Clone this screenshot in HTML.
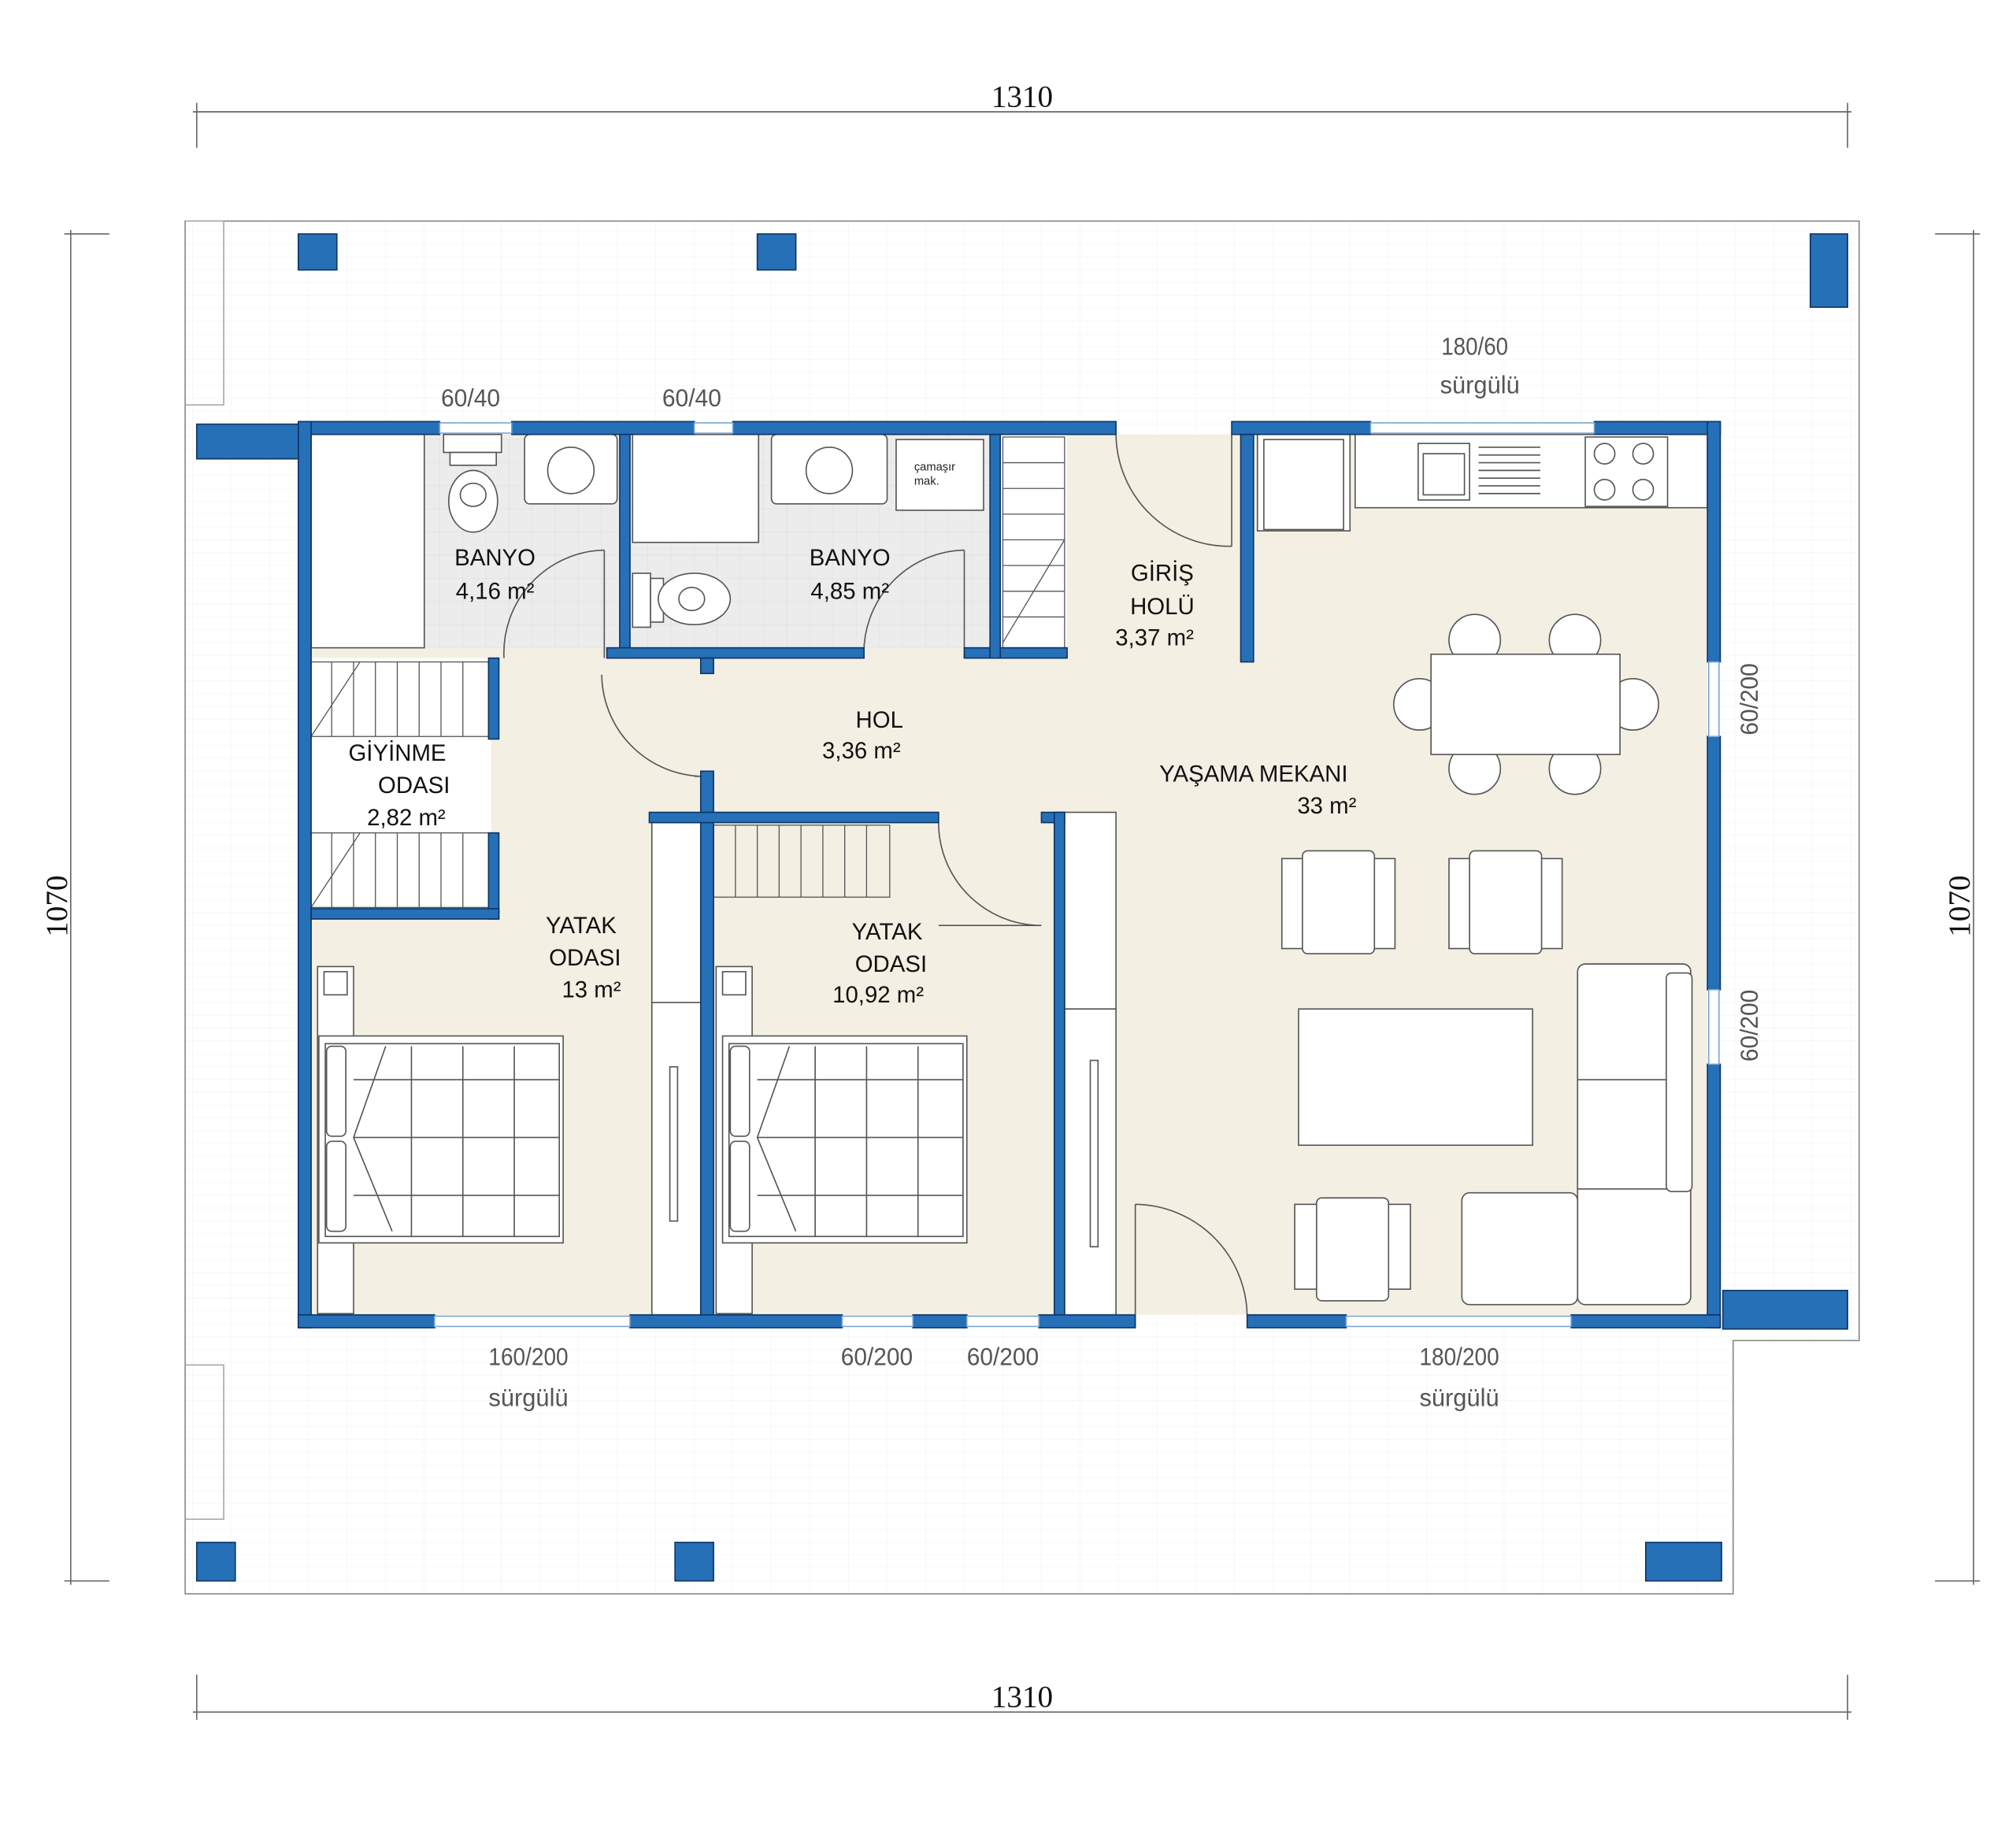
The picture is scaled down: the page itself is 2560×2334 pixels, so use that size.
<!DOCTYPE html>
<html><head><meta charset="utf-8"><style>
html,body{margin:0;padding:0;background:#fff;}
svg{display:block;}
</style></head><body>
<svg width="2560" height="2334" viewBox="0 0 1568 1430" preserveAspectRatio="none" xmlns="http://www.w3.org/2000/svg" font-family="Liberation Sans, sans-serif">
<defs>
<pattern id="tile" width="30" height="10" patternUnits="userSpaceOnUse"><path d="M0 10H30M30 0V10" stroke="#eef0f3" stroke-width="0.6" fill="none"/></pattern>
<pattern id="btile" width="18" height="18" patternUnits="userSpaceOnUse"><path d="M0 18H18M18 0V18" stroke="#dcdcdc" stroke-width="0.6" fill="none"/></pattern>
</defs>
<rect width="1568" height="1430" fill="#fff"/>
<g stroke="#666" stroke-width="1" fill="none">
<line x1="150" y1="87" x2="1440" y2="87"/><line x1="153" y1="80" x2="153" y2="115"/><line x1="1437" y1="80" x2="1437" y2="115"/>
<line x1="150" y1="1332" x2="1440" y2="1332"/><line x1="153" y1="1303" x2="153" y2="1338"/><line x1="1437" y1="1303" x2="1437" y2="1338"/>
<line x1="55" y1="179" x2="55" y2="1233"/><line x1="50" y1="182" x2="85" y2="182"/><line x1="50" y1="1230" x2="85" y2="1230"/>
<line x1="1535" y1="179" x2="1535" y2="1233"/><line x1="1505" y1="182" x2="1540" y2="182"/><line x1="1505" y1="1230" x2="1540" y2="1230"/>
</g>
<g style="font-family:'Liberation Serif',serif" font-size="24" fill="#111" text-anchor="middle">
<text x="795" y="83">1310</text><text x="795" y="1328">1310</text>
<text transform="translate(52,705) rotate(-90)">1070</text>
<text transform="translate(1532,705) rotate(-90)">1070</text>
</g>
<path d="M144 172H1446V1043H1348V1240H144Z" fill="url(#tile)" stroke="#888" stroke-width="1"/>
<path d="M144 172H174V315H144" fill="none" stroke="#aaa" stroke-width="1"/>
<path d="M144 1062H174V1182H144" fill="none" stroke="#aaa" stroke-width="1"/>
<rect x="242" y="338" width="1086" height="685" fill="#f4efe3"/>
<rect x="242" y="338" width="240" height="166" fill="#ececec"/>
<rect x="330" y="338" width="152" height="166" fill="url(#btile)"/>
<rect x="490" y="338" width="280" height="166" fill="#ececec"/>
<rect x="490" y="338" width="280" height="166" fill="url(#btile)"/>
<rect x="242" y="338" width="88" height="166" fill="#fff" stroke="#555" stroke-width="1"/>
<rect x="242" y="512" width="140" height="195" fill="#fff"/>
<rect x="778" y="338" width="52" height="166" fill="#fff"/>
<g stroke="#555" stroke-width="0.8" fill="none">
<rect x="242" y="515" width="138" height="58"/><rect x="242" y="648" width="138" height="58"/>
<path d="M258 515V573M275 515V573M292 515V573M309 515V573M326 515V573M343 515V573M360 515V573"/>
<path d="M258 648V706M275 648V706M292 648V706M309 648V706M326 648V706M343 648V706M360 648V706"/>
<path d="M242 573L280 515M242 706L280 648"/>
<rect x="555" y="642" width="137" height="56"/>
<path d="M572 642V698M589 642V698M606 642V698M623 642V698M640 642V698M657 642V698M674 642V698"/>
<rect x="780" y="340" width="48" height="164"/>
<path d="M780 360H828M780 380H828M780 400H828M780 420H828M780 440H828M780 460H828M780 480H828M780 500L828 420"/>
</g>
<g stroke="#555" stroke-width="1" fill="#fff">
<rect x="345" y="338" width="45" height="14"/><rect x="350" y="352" width="36" height="10"/>
<ellipse cx="368" cy="390" rx="19" ry="24"/><ellipse cx="368" cy="385" rx="10" ry="9"/>
<rect x="408" y="338" width="72" height="54" rx="4"/><circle cx="444" cy="366" r="18"/>
<rect x="492" y="338" width="98" height="84"/>
<rect x="600" y="338" width="90" height="54" rx="4"/><circle cx="645" cy="366" r="18"/>
<rect x="697" y="342" width="68" height="55"/>
<rect x="492" y="446" width="14" height="42"/><rect x="506" y="450" width="10" height="34"/>
<ellipse cx="540" cy="466" rx="28" ry="20"/><ellipse cx="538" cy="466" rx="10" ry="9"/>
</g>
<text x="711" y="366" font-size="9" fill="#222">çamaşır</text><text x="711" y="377" font-size="9" fill="#222">mak.</text>
<g stroke="#555" stroke-width="1" fill="#fff">
<rect x="978" y="338" width="72" height="75"/><rect x="983" y="342" width="62" height="70"/>
<rect x="1054" y="338" width="274" height="57"/>
<rect x="1103" y="345" width="40" height="44"/><rect x="1107" y="353" width="32" height="32"/>
<path d="M1150 348H1198M1150 354H1198M1150 360H1198M1150 366H1198M1150 372H1198M1150 378H1198M1150 384H1198" fill="none"/>
<rect x="1233" y="340" width="64" height="54"/>
<circle cx="1248" cy="353" r="8"/><circle cx="1278" cy="353" r="8"/><circle cx="1248" cy="381" r="8"/><circle cx="1278" cy="381" r="8"/>
</g>
<g stroke="#555" stroke-width="1" fill="#fff">
<circle cx="1147" cy="498" r="20"/><circle cx="1225" cy="498" r="20"/>
<circle cx="1147" cy="598" r="20"/><circle cx="1225" cy="598" r="20"/>
<circle cx="1104" cy="548" r="20"/><circle cx="1270" cy="548" r="20"/>
<rect x="1113" y="509" width="147" height="78"/>
</g>
<g stroke="#555" stroke-width="1" fill="#fff">
<rect x="997" y="668" width="88" height="70"/><rect x="1013" y="662" width="56" height="80" rx="4"/>
<rect x="1127" y="668" width="88" height="70"/><rect x="1143" y="662" width="56" height="80" rx="4"/>
<rect x="1007" y="937" width="90" height="66"/><rect x="1024" y="932" width="56" height="80" rx="4"/>
<rect x="1010" y="785" width="182" height="106"/>
<rect x="1227" y="750" width="88" height="265" rx="6"/>
<path d="M1227 840H1315M1227 925H1315" fill="none"/>
<rect x="1137" y="928" width="90" height="87" rx="6"/>
<rect x="1296" y="757" width="20" height="170" rx="4"/>
</g>
<g stroke="#555" stroke-width="1" fill="#fff">
<rect x="247" y="752" width="28" height="270"/><rect x="252" y="756" width="18" height="18"/>
<rect x="248" y="806" width="190" height="161"/><rect x="253" y="812" width="182" height="150"/>
<rect x="254" y="814" width="15" height="70" rx="4"/><rect x="254" y="888" width="15" height="70" rx="4"/>
<path d="M300 814L275 885L305 958M320 814V962M360 814V962M400 814V962M275 840H435M275 885H435M275 930H435" fill="none"/>
<rect x="557" y="752" width="28" height="270"/><rect x="562" y="756" width="18" height="18"/>
<rect x="562" y="806" width="190" height="161"/><rect x="567" y="812" width="182" height="150"/>
<rect x="568" y="814" width="15" height="70" rx="4"/><rect x="568" y="888" width="15" height="70" rx="4"/>
<path d="M614 814L589 885L619 958M634 814V962M674 814V962M714 814V962M589 840H749M589 885H749M589 930H749" fill="none"/>
</g>
<g stroke="#555" stroke-width="1" fill="#fff">
<rect x="507" y="640" width="38" height="383"/><path d="M507 780H545" fill="none"/><rect x="521" y="830" width="6" height="120"/>
<rect x="828" y="632" width="40" height="391"/><path d="M828 785H868" fill="none"/><rect x="848" y="825" width="6" height="145"/>
</g>
<g stroke="#555" stroke-width="1" fill="none">
<path d="M470 428V512M470 428A80 80 0 0 0 392 512"/>
<path d="M750 428V512M750 428A80 80 0 0 0 672 512"/>
<path d="M958 338V425M868 338A88 88 0 0 0 958 425"/>
<path d="M545 604H540M468 525A80 80 0 0 0 545 604"/>
<path d="M810 720H730M730 640A80 80 0 0 0 810 720"/>
<path d="M883 937V1023M883 937A88 88 0 0 1 970 1023"/>
</g>
<g fill="#2670b8" stroke="#0d3563" stroke-width="1">
<rect x="232" y="328" width="110" height="10"/><rect x="398" y="328" width="142" height="10"/>
<rect x="570" y="328" width="298" height="10"/><rect x="958" y="328" width="108" height="10"/>
<rect x="1240" y="328" width="98" height="10"/>
<rect x="232" y="328" width="10" height="705"/>
<rect x="1328" y="328" width="10" height="187"/><rect x="1328" y="573" width="10" height="197"/><rect x="1328" y="828" width="10" height="205"/>
<rect x="232" y="1023" width="106" height="10"/><rect x="490" y="1023" width="165" height="10"/>
<rect x="710" y="1023" width="42" height="10"/><rect x="808" y="1023" width="75" height="10"/>
<rect x="970" y="1023" width="77" height="10"/><rect x="1222" y="1023" width="116" height="10"/>
<rect x="482" y="338" width="8" height="174"/>
<rect x="472" y="504" width="200" height="8"/><rect x="750" y="504" width="80" height="8"/>
<rect x="770" y="338" width="8" height="174"/>
<rect x="965" y="338" width="10" height="177"/>
<rect x="380" y="512" width="8" height="63"/><rect x="380" y="648" width="8" height="67"/>
<rect x="242" y="707" width="146" height="8"/>
<rect x="545" y="512" width="10" height="12"/><rect x="545" y="600" width="10" height="423"/>
<rect x="505" y="632" width="225" height="8"/>
<rect x="810" y="632" width="18" height="8"/><rect x="820" y="632" width="8" height="391"/>
<rect x="232" y="182" width="30" height="28"/><rect x="589" y="182" width="30" height="28"/>
<rect x="1408" y="182" width="29" height="57"/><rect x="153" y="330" width="79" height="27"/>
<rect x="153" y="1200" width="30" height="30"/><rect x="525" y="1200" width="30" height="30"/>
<rect x="1280" y="1200" width="59" height="30"/><rect x="1340" y="1004" width="97" height="30"/>
</g>
<g fill="#fff" stroke="#7aa7d6" stroke-width="1">
<rect x="342" y="329" width="56" height="8"/><rect x="540" y="329" width="30" height="8"/>
<rect x="1066" y="329" width="174" height="8"/>
<rect x="1329" y="515" width="8" height="58"/><rect x="1329" y="770" width="8" height="58"/>
<rect x="338" y="1024" width="152" height="8"/><rect x="655" y="1024" width="55" height="8"/>
<rect x="752" y="1024" width="56" height="8"/><rect x="1047" y="1024" width="175" height="8"/>
</g>
<g font-size="18" fill="#111" text-anchor="middle">
<text x="385" y="440">BANYO</text><text x="385" y="466">4,16 m²</text>
<text x="661" y="440">BANYO</text><text x="661" y="466">4,85 m²</text>
<text x="904" y="452">GİRİŞ</text><text x="904" y="478">HOLÜ</text><text x="898" y="502">3,37 m²</text>
<text x="684" y="566">HOL</text><text x="670" y="590">3,36 m²</text>
<text x="309" y="592">GİYİNME</text><text x="322" y="617">ODASI</text><text x="316" y="642">2,82 m²</text>
<text x="975" y="608">YAŞAMA MEKANI</text><text x="1032" y="633">33 m²</text>
<text x="452" y="726">YATAK</text><text x="455" y="751">ODASI</text><text x="460" y="776">13 m²</text>
<text x="690" y="731">YATAK</text><text x="693" y="756">ODASI</text><text x="683" y="780">10,92 m²</text>
</g>
<g font-size="19" fill="#555" text-anchor="middle">
<text x="366" y="316" textLength="46" lengthAdjust="spacingAndGlyphs">60/40</text>
<text x="538" y="316" textLength="46" lengthAdjust="spacingAndGlyphs">60/40</text>
<text x="1147" y="276" textLength="52" lengthAdjust="spacingAndGlyphs">180/60</text>
<text x="1151" y="306" textLength="62" lengthAdjust="spacingAndGlyphs">sürgülü</text>
<text x="411" y="1062" textLength="62" lengthAdjust="spacingAndGlyphs">160/200</text>
<text x="411" y="1094" textLength="62" lengthAdjust="spacingAndGlyphs">sürgülü</text>
<text x="682" y="1062" textLength="56" lengthAdjust="spacingAndGlyphs">60/200</text>
<text x="780" y="1062" textLength="56" lengthAdjust="spacingAndGlyphs">60/200</text>
<text x="1135" y="1062" textLength="62" lengthAdjust="spacingAndGlyphs">180/200</text>
<text x="1135" y="1094" textLength="62" lengthAdjust="spacingAndGlyphs">sürgülü</text>
<text transform="translate(1367,544) rotate(-90)" textLength="56" lengthAdjust="spacingAndGlyphs">60/200</text>
<text transform="translate(1367,798) rotate(-90)" textLength="56" lengthAdjust="spacingAndGlyphs">60/200</text>
</g>
</svg>
</body></html>
